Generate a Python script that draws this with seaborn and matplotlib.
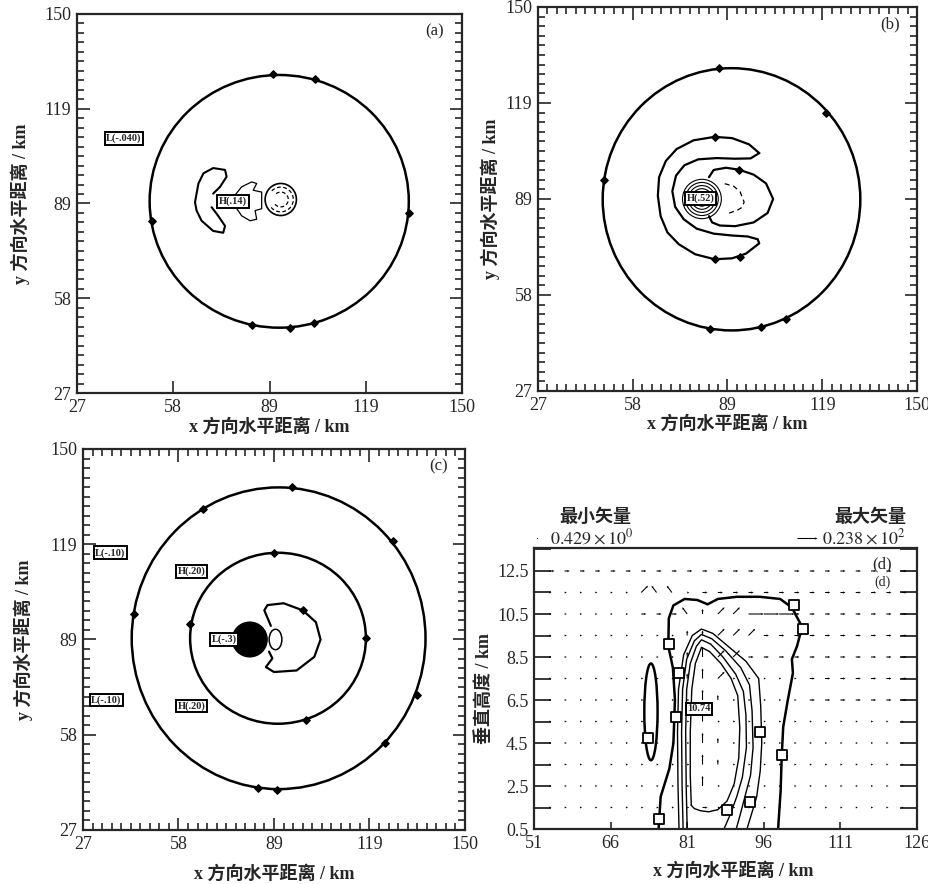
import numpy as np
import matplotlib.pyplot as plt
import seaborn as sns
from matplotlib.patches import Ellipse, Arc

sns.set_style("ticks")
plt.rcParams['font.family'] = ['Liberation Serif', 'Noto Sans CJK SC']
plt.rcParams['mathtext.fontset'] = 'stix'

# -----------------------------
# Data (km)
# -----------------------------

# panel (a)
a_outer_c = (91.6, 89.2)
a_outer_r = (41.4, 41.0)
a_cup_c = (92.1, 89.8)
a_cup_r = (5.0, 5.2)
a_dash_r = [4.0, 2.4]
a_crescent_x = [70.5, 72.7, 74.8, 74.3, 70.5, 67.4, 65.8, 65.2, 64.7, 65.2, 66.8, 70.5, 73.7, 74.3, 72.1, 70.0]
a_crescent_y = [91.7, 93.9, 97.2, 99.4, 100.0, 98.3, 95.0, 91.7, 88.9, 86.2, 82.9, 79.6, 79.0, 81.2, 84.5, 87.3]
a_arrow_x = [77.0, 79.6, 82.8, 84.4, 83.3, 86.0, 86.0, 83.9, 84.4, 82.3, 79.6, 77.0, 77.0]
a_arrow_y = [90.6, 93.9, 95.5, 95.0, 92.8, 92.2, 86.8, 86.2, 83.4, 82.9, 84.5, 88.4, 90.6]
a_mark_x = [89.5, 103.0, 50.9, 133.0, 83.0, 95.0, 102.7]
a_mark_y = [130.4, 128.8, 82.9, 85.4, 49.0, 48.1, 49.6]
a_label_text = ['L(-.040)', 'H(.14)']
a_label_x = [42.0, 76.8]
a_label_y = [109.6, 89.2]

# panel (b)
b_outer_c = (89.8, 88.4)
b_outer_r = (41.8, 42.0)
b_c_x = [98.8, 95.5, 90.0, 84.3, 77.5, 72.0, 68.5, 66.3, 65.9, 66.8, 69.0, 72.7, 78.0, 84.3, 90.0, 94.5, 98.8,
         98.3, 95.0, 90.0, 84.0, 78.5, 74.3, 71.5, 70.6, 71.8, 74.5, 79.0, 85.0, 91.0, 96.0, 98.8]
b_c_y = [103.2, 106.0, 108.0, 108.4, 107.3, 104.5, 100.7, 95.5, 89.5, 83.0, 77.8, 74.0, 70.8, 69.2, 69.5, 71.0, 74.3,
         75.6, 76.5, 76.8, 77.4, 79.0, 82.0, 86.0, 91.0, 96.0, 99.3, 101.2, 101.6, 101.4, 101.5, 103.2]
b_egg_x = [82.5, 84.0, 88.0, 92.2, 97.0, 101.0, 103.3, 101.5, 97.0, 91.0, 86.0, 83.5, 82.5]
b_egg_y = [95.5, 97.8, 98.5, 97.9, 96.3, 93.5, 88.5, 84.0, 81.0, 79.8, 80.0, 81.0, 83.0]
b_dash_x = [87.6, 90.5, 92.6, 93.9, 93.2, 91.7, 87.9]
b_dash_y = [93.4, 92.6, 90.8, 87.5, 85.8, 84.9, 83.6]
b_blob_c = (80.2, 88.5)
b_blob_r = [1.3, 2.3, 3.3, 4.3, 5.3, 6.3]
b_mark_x = [85.9, 120.6, 48.3, 84.3, 92.2, 84.6, 92.5, 82.7, 99.5, 107.4]
b_mark_y = [130.3, 116.2, 94.7, 108.3, 97.9, 69.3, 69.8, 46.7, 47.5, 50.2]
b_label_text = ['H(.52)']
b_label_x = [79.8]
b_label_y = [88.7]

# panel (c)
c_outer_c = (90.0, 88.9)
c_outer_r = (47.3, 48.7)
c_mid_c = (89.8, 88.9)
c_mid_r = (28.3, 27.6)
c_egg_x = [87.5, 85.4, 86.4, 91.6, 97.8, 102.0, 103.5, 101.5, 95.8, 88.5, 85.9, 88.0, 86.9]
c_egg_y = [92.9, 97.9, 99.6, 100.2, 97.9, 94.1, 88.5, 82.9, 78.5, 78.0, 79.6, 82.4, 84.6]
c_oval_c = (89.0, 88.5)
c_oval_r = (2.05, 3.3)
c_blob_c = (80.7, 88.5)
c_blob_r = 5.6
c_mark_x = [94.2, 65.7, 126.9, 43.3, 134.7, 124.3, 83.3, 89.5, 88.5, 61.5, 118.1, 98.9, 97.8]
c_mark_y = [137.6, 130.5, 120.2, 96.8, 70.7, 55.2, 40.7, 39.9, 116.5, 93.5, 89.1, 62.5, 97.9]
c_label_text = ['L(-.10)', 'H(.20)', 'L(-.10)', 'H(.20)', 'L(-.3)']
c_label_x = [35.8, 61.9, 34.5, 62.0, 72.5]
c_label_y = [116.5, 110.5, 69.0, 67.0, 88.6]

# panel (d): x-z section
d_outer_x = [75.4, 75.8, 77.5, 78.3, 78.6, 78.2, 77.3, 77.4, 78.3, 80.5, 83.0, 85.0, 87.0, 90.7, 95.2, 99.2,
             101.5, 103.5, 102.5, 101.5, 101.7, 100.7, 99.8, 99.5, 99.3, 98.8]
d_outer_z = [0.5, 2.0, 3.3, 4.5, 6.5, 8.0, 9.0, 10.3, 10.9, 11.2, 11.15, 10.95, 11.2, 11.3, 11.3, 11.2,
             10.8, 9.9, 9.0, 8.4, 7.75, 6.5, 5.25, 3.85, 2.3, 0.5]
d_t4_x = [79.4, 79.2, 79.1, 79.3, 80.3, 82.0, 83.8, 86.0, 89.0, 92.5, 95.0, 95.4, 95.6, 95.3, 94.6, 93.6, 92.7]
d_t4_z = [0.5, 2.5, 5.0, 7.0, 8.6, 9.5, 9.8, 9.6, 9.0, 8.3, 7.5, 6.2, 4.5, 3.2, 2.0, 1.2, 0.5]
d_t3_x = [80.2, 80.0, 79.9, 80.1, 80.9, 82.4, 83.8, 85.8, 88.5, 91.5, 93.2, 93.7, 93.9, 93.4, 92.3, 91.3, 90.6]
d_t3_z = [0.5, 2.5, 5.0, 7.0, 8.4, 9.25, 9.55, 9.35, 8.8, 8.0, 7.2, 6.0, 4.3, 3.0, 2.0, 1.1, 0.5]
d_t2_x = [81.0, 80.8, 80.7, 80.9, 81.6, 82.8, 83.8, 85.6, 88.0, 90.5, 92.0, 92.5, 92.6, 91.8, 90.7, 89.3, 88.2]
d_t2_z = [0.5, 2.5, 5.0, 7.0, 8.2, 9.0, 9.3, 9.1, 8.5, 7.7, 6.9, 5.8, 4.3, 2.9, 2.0, 1.1, 0.5]
d_t1_x = [81.8, 81.6, 81.6, 81.9, 82.6, 83.8, 85.4, 87.6, 89.6, 90.9, 91.3, 91.1, 90.2, 88.8, 87.0, 85.2, 83.6, 82.4, 81.8]
d_t1_z = [1.6, 3.0, 5.0, 7.0, 8.2, 8.95, 8.75, 8.2, 7.5, 6.7, 5.2, 3.8, 2.6, 1.8, 1.4, 1.3, 1.35, 1.45, 1.6]
d_cell_c = (73.9, 5.95)
d_cell_r = (1.3, 2.25)
d_box_x = [75.5, 77.4, 102.0, 103.7, 99.5, 95.3, 93.3, 88.7, 73.4, 79.3, 78.9]
d_box_z = [0.95, 9.1, 10.9, 9.8, 3.94, 5.03, 1.77, 1.38, 4.72, 7.74, 5.72]

# wind vectors on the section grid, one code per grid point
vec_x = [54, 57, 60, 63, 66, 69, 72, 75, 78, 81, 84, 87, 90, 93, 96, 99, 102, 105, 108, 111, 114, 117, 120, 123]
vec_z = [12.5, 11.5, 10.5, 9.5, 8.5, 7.5, 6.5, 5.5, 4.5, 3.5, 2.5, 1.5]
vec_rows = [
    "------------------------",
    "....../kk.--------------",
    "......---ki//===--------",
    ".........ii///----------",
    ".........i|//-----------",
    ".........i|/.....-------",
    "..........|i.....-------",
    "..........|.............",
    "..........|i............",
    "..........|i............",
    "..........|.............",
    "..........-.............",
]
code_u = {'.': 2.5, '-': 6.0, '=': 18.0, '|': 0.0, 'i': 0.0, '/': 8.0, 'k': -6.0}
code_w = {'.': 0.0, '-': 0.0, '=': 0.0, '|': 12.0, 'i': 6.0, '/': 8.0, 'k': 8.0}
vec_min = 0.429
vec_max = 23.8

sq_ticks = [27, 57.75, 88.5, 119.25, 150]
sq_ticklabels = ['27', '58', '89', '119', '150']
d_xticks = [51, 66, 81, 96, 111, 126]
d_zticks = [0.5, 2.5, 4.5, 6.5, 8.5, 10.5, 12.5]

XLABEL = 'x 方向水平距离 / km'
YLABEL = 'y 方向水平距离 / km'

# -----------------------------
# Helpers
# -----------------------------

def curve(ax, xs, ys, lw, ls='-'):
    sns.lineplot(x=xs, y=ys, sort=False, estimator=None, color='k', lw=lw, ls=ls, ax=ax, legend=False)


def ring(ax, c, r, lw, ls='-', fill=False):
    ax.add_patch(Ellipse(c, 2 * r[0], 2 * r[1], fill=fill, fc='k', ec='k', lw=lw, ls=ls))


def marks(ax, xs, ys):
    ax.scatter(xs, ys, marker='D', s=14, color='k', zorder=5)


def boxes(ax, texts, xs, ys):
    for t, x, y in zip(texts, xs, ys):
        ax.text(x, y, t, fontsize=7.5, fontweight='bold', ha='center', va='center', zorder=6,
                bbox=dict(boxstyle='square,pad=0.15', fc='white', ec='k', lw=1.4))


def square_axes(ax, tag, xl, yl, top=True):
    ax.set_xlim(27, 150)
    ax.set_ylim(27, 150)
    ax.set_xticks(sq_ticks)
    ax.set_xticklabels(sq_ticklabels)
    ax.set_yticks(sq_ticks)
    ax.set_yticklabels(sq_ticklabels)
    minor = np.linspace(27, 150, 41)
    if top:
        ax.set_xticks(minor, minor=True)
    ax.set_yticks(minor, minor=True)
    ax.tick_params(which='both', direction='in', top=top, right=True, width=1.2, labelsize=13, pad=4)
    ax.tick_params(which='major', length=9)
    ax.tick_params(which='minor', length=5)
    for s in ax.spines.values():
        s.set_linewidth(1.6)
    ax.set_xlabel(XLABEL, fontsize=13, fontweight='bold')
    ax.set_ylabel(YLABEL, fontsize=13, fontweight='bold')
    ax.xaxis.set_label_coords(0.5, xl)
    ax.yaxis.set_label_coords(yl, 0.5)
    ax.text(0.93, 0.955, tag, transform=ax.transAxes, fontsize=12, ha='center', va='center')


fig = plt.figure(figsize=(9.29, 8.84), dpi=100)
ax_a = fig.add_axes([0.0829, 0.5554, 0.4144, 0.4288])
ax_b = fig.add_axes([0.5791, 0.5577, 0.4080, 0.4344])
ax_c = fig.add_axes([0.0893, 0.0611, 0.4112, 0.4310])
ax_d = fig.add_axes([0.5748, 0.0622, 0.4123, 0.3179])

# -----------------------------
# (a)
# -----------------------------
ring(ax_a, a_outer_c, a_outer_r, 1.8)
ring(ax_a, a_cup_c, a_cup_r, 1.2)
for r in a_dash_r:
    ax_a.add_patch(Arc(a_cup_c, 2 * r, 2 * r, theta1=-140, theta2=140, color='k', lw=0.9, ls=(0, (3, 2))))
curve(ax_a, a_crescent_x, a_crescent_y, 1.5)
curve(ax_a, a_arrow_x, a_arrow_y, 0.9)
marks(ax_a, a_mark_x, a_mark_y)
boxes(ax_a, a_label_text, a_label_x, a_label_y)
square_axes(ax_a, '(a)', -0.066, -0.122, top=False)

# -----------------------------
# (b)
# -----------------------------
ring(ax_b, b_outer_c, b_outer_r, 1.8)
curve(ax_b, b_c_x, b_c_y, 1.6)
curve(ax_b, b_egg_x, b_egg_y, 1.6)
curve(ax_b, b_dash_x, b_dash_y, 0.9, ls=(0, (4, 3)))
for r in b_blob_r:
    ring(ax_b, b_blob_c, (r, r), 0.8)
marks(ax_b, b_mark_x, b_mark_y)
boxes(ax_b, b_label_text, b_label_x, b_label_y)
square_axes(ax_b, '(b)', -0.0625, -0.10)

# -----------------------------
# (c)
# -----------------------------
ring(ax_c, c_outer_c, c_outer_r, 1.8)
ring(ax_c, c_mid_c, c_mid_r, 1.8)
curve(ax_c, c_egg_x, c_egg_y, 1.6)
ring(ax_c, c_oval_c, c_oval_r, 1.1)
ring(ax_c, c_blob_c, (c_blob_r, c_blob_r), 1.0, fill=True)
marks(ax_c, c_mark_x, c_mark_y)
boxes(ax_c, c_label_text, c_label_x, c_label_y)
square_axes(ax_c, '(c)', -0.092, -0.131)

# -----------------------------
# (d)
# -----------------------------
X, Z = np.meshgrid(vec_x, vec_z)
U = np.array([[code_u[ch] for ch in row] for row in vec_rows])
W = np.array([[code_w[ch] for ch in row] for row in vec_rows])
Q = ax_d.quiver(X, Z, U, W, angles='uv', scale_units='inches', scale=119, pivot='tail',
                width=0.0028, headwidth=2.2, headlength=2.2, headaxislength=2.0, color='k', zorder=2)

curve(ax_d, d_outer_x, d_outer_z, 1.8)
for xs, zs in [(d_t4_x, d_t4_z), (d_t3_x, d_t3_z), (d_t2_x, d_t2_z), (d_t1_x, d_t1_z)]:
    curve(ax_d, xs, zs, 1.0)
ring(ax_d, d_cell_c, d_cell_r, 1.8)
ax_d.scatter(d_box_x, d_box_z, marker='s', s=45, facecolor='white', edgecolor='k', linewidths=1.3, zorder=5)
ax_d.text(83.3, 6.1, '10.74', fontsize=7.5, fontweight='bold', ha='center', va='center', zorder=6,
          bbox=dict(boxstyle='square,pad=0.15', fc='white', ec='k', lw=1.4))

ax_d.set_xlim(51, 126)
ax_d.set_ylim(0.5, 13.57)
ax_d.set_xticks(d_xticks)
ax_d.set_yticks(d_zticks)
ax_d.set_yticks([1.5, 3.5, 5.5, 7.5, 9.5, 11.5, 13.5], minor=True)
ax_d.tick_params(axis='y', which='both', direction='in', left=True, right=True, length=12, width=1.3)
ax_d.tick_params(axis='x', which='major', direction='in', length=5, width=1.2)
ax_d.tick_params(labelsize=13, pad=4)
for s in ax_d.spines.values():
    s.set_linewidth(1.6)
ax_d.set_xlabel(XLABEL, fontsize=13, fontweight='bold')
ax_d.set_ylabel('垂直高度 / km', fontsize=13, fontweight='bold')
ax_d.xaxis.set_label_coords(0.52, -0.117)
ax_d.yaxis.set_label_coords(-0.107, 0.5)
ax_d.text(0.909, 0.94, '(d)', transform=ax_d.transAxes, fontsize=12, ha='center', va='center')
ax_d.text(0.909, 0.878, '(d)', transform=ax_d.transAxes, fontsize=10, ha='center', va='center')

ax_d.quiverkey(Q, 0.578, 0.391, vec_min, r'$0.429\times10^{0}$', labelpos='E', coordinates='figure',
               labelsep=0.13, fontproperties={'size': 13})
ax_d.quiverkey(Q, 0.879, 0.391, vec_max, r'$0.238\times10^{2}$', labelpos='E', coordinates='figure',
               labelsep=0.05, fontproperties={'size': 13})
fig.text(595 / 929, 1 - 517 / 884, '最小矢量', fontsize=13, fontweight='bold', ha='center', va='center')
fig.text(870 / 929, 1 - 517 / 884, '最大矢量', fontsize=13, fontweight='bold', ha='center', va='center')

fig.savefig('out.png', dpi=100)
